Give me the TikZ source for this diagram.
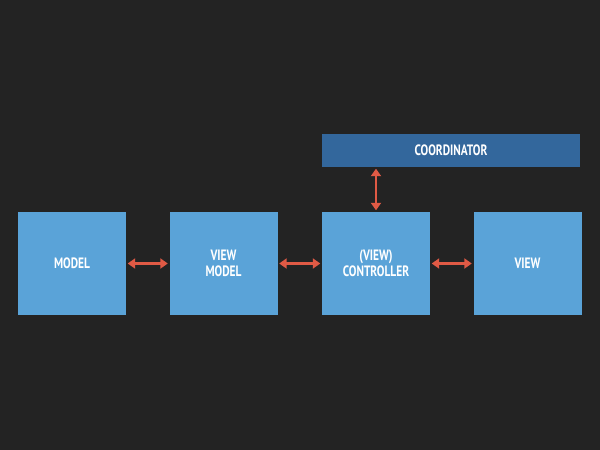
\documentclass[tikz,border=0pt]{standalone}
\usepackage{fontspec}
\setmainfont{PT Sans}[FakeStretch=0.76]
\usetikzlibrary{arrows.meta}
\definecolor{bg}{HTML}{232323}
\definecolor{boxblue}{HTML}{5AA3D8}
\definecolor{coordblue}{HTML}{33679C}
\definecolor{arrowred}{HTML}{E05A45}
\tikzset{
  block/.style={fill=boxblue, draw=none, minimum width=108pt, minimum height=103pt, inner sep=0pt,
    text=white, font=\fontsize{15}{16.5}\selectfont\bfseries, align=center},
  coordbox/.style={fill=coordblue, draw=none, minimum width=258pt, minimum height=33pt, inner sep=0pt,
    text=white, font=\fontsize{15}{16.5}\selectfont\bfseries},
  link/.style={draw=arrowred, line width=2.6pt, {Triangle[length=7.5pt,width=10pt]}-{Triangle[length=7.5pt,width=10pt]}, shorten <=1.5pt, shorten >=1.5pt}
}
\begin{document}
\begin{tikzpicture}[x=1pt,y=-1pt]
\fill[bg] (0,0) rectangle (600,450);
\useasboundingbox (0,0) rectangle (600,450);
\node[block] (model) at (72,263.5) {MODEL};
\node[block] (vm) at (223.5,263.5) {VIEW\\MODEL};
\node[block] (vc) at (376,263.5) {(VIEW)\\CONTROLLER};
\node[block] (view) at (527.5,263.5) {VIEW};
\node[coordbox] (coord) at (451,150.5) {COORDINATOR};
\draw[link] (model) -- (vm);
\draw[link] (vm) -- (vc);
\draw[link] (vc) -- (view);
\draw[link] (vc.north) -- (vc.north |- coord.south);
\end{tikzpicture}
\end{document}
